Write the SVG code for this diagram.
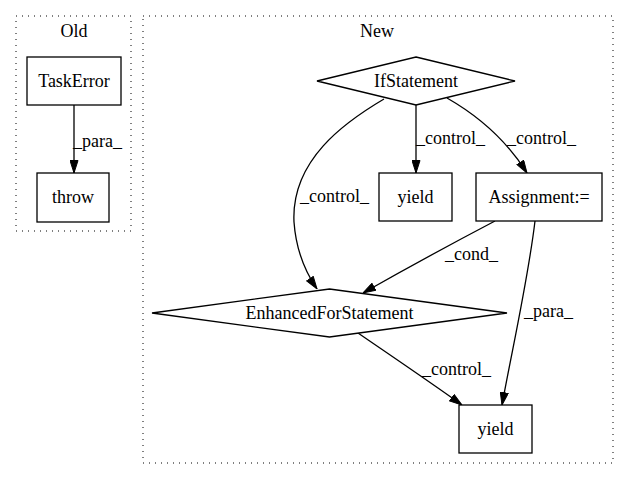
<svg xmlns="http://www.w3.org/2000/svg" width="628" height="480" viewBox="0 0 628 480">
<style>
.cl{fill:none;stroke:#000;stroke-dasharray:1,5;stroke-width:1}
.n{fill:#fff;stroke:#000;stroke-width:1.3}
.e{fill:none;stroke:#000;stroke-width:1.3}
</style>
<defs>
<marker id="a" markerWidth="13" markerHeight="9" refX="13" refY="4.5" orient="auto" markerUnits="userSpaceOnUse">
<path d="M0.5,0.5 L13,4.5 L0.5,8.5 z" fill="#000" stroke="#000"/>
</marker>
</defs>
<rect width="628" height="480" fill="#fff"/>
<g font-family="'Liberation Serif', 'Times New Roman', serif" font-size="18" fill="#000">
<g id="cluster_old">
<rect class="cl" x="16" y="16" width="115" height="215"/>
<text text-anchor="middle" x="74" y="37">Old</text>
</g>
<g id="cluster_new">
<rect class="cl" x="143" y="16" width="470" height="447"/>
<text text-anchor="middle" x="377" y="37">New</text>
</g>
<g id="edges">
<path class="e" d="M74,105 L74,173" marker-end="url(#a)"/>
<text x="73" y="147">_para_</text>
<path class="e" d="M416,105 L416,173" marker-end="url(#a)"/>
<text x="416" y="144">_control_</text>
<path class="e" d="M447,98 C475,114 505,138 527,173" marker-end="url(#a)"/>
<text x="507" y="144">_control_</text>
<path class="e" d="M384,99 C345,122 291,160 294,222 C296,250 304,270 317,289" marker-end="url(#a)"/>
<text x="300" y="202">_control_</text>
<path class="e" d="M495,221 C455,242 400,272 363,293" marker-end="url(#a)"/>
<text x="445" y="260">_cond_</text>
<path class="e" d="M535,221 C528,280 512,350 502,405" marker-end="url(#a)"/>
<text x="524" y="317">_para_</text>
<path class="e" d="M358,333 C390,355 430,382 462,405" marker-end="url(#a)"/>
<text x="422" y="375">_control_</text>
</g>
<g id="TaskError">
<rect class="n" x="27" y="57" width="94" height="48"/>
<text text-anchor="middle" x="74" y="87">TaskError</text>
</g>
<g id="throw">
<rect class="n" x="37" y="173" width="72" height="49"/>
<text text-anchor="middle" x="73" y="203">throw</text>
</g>
<g id="IfStatement">
<polygon class="n" points="416,57 515,81 416,105 317,81"/>
<text text-anchor="middle" x="416" y="87">IfStatement</text>
</g>
<g id="yield1">
<rect class="n" x="379" y="173" width="73" height="48"/>
<text text-anchor="middle" x="415.5" y="203">yield</text>
</g>
<g id="Assignment">
<rect class="n" x="476" y="173" width="126" height="48"/>
<text text-anchor="middle" x="539" y="203">Assignment:=</text>
</g>
<g id="EnhancedForStatement">
<polygon class="n" points="329.5,289 507,313 329.5,337 152,313"/>
<text text-anchor="middle" x="329.5" y="319">EnhancedForStatement</text>
</g>
<g id="yield2">
<rect class="n" x="459" y="405" width="73" height="48"/>
<text text-anchor="middle" x="495.5" y="435">yield</text>
</g>
</g>
</svg>
